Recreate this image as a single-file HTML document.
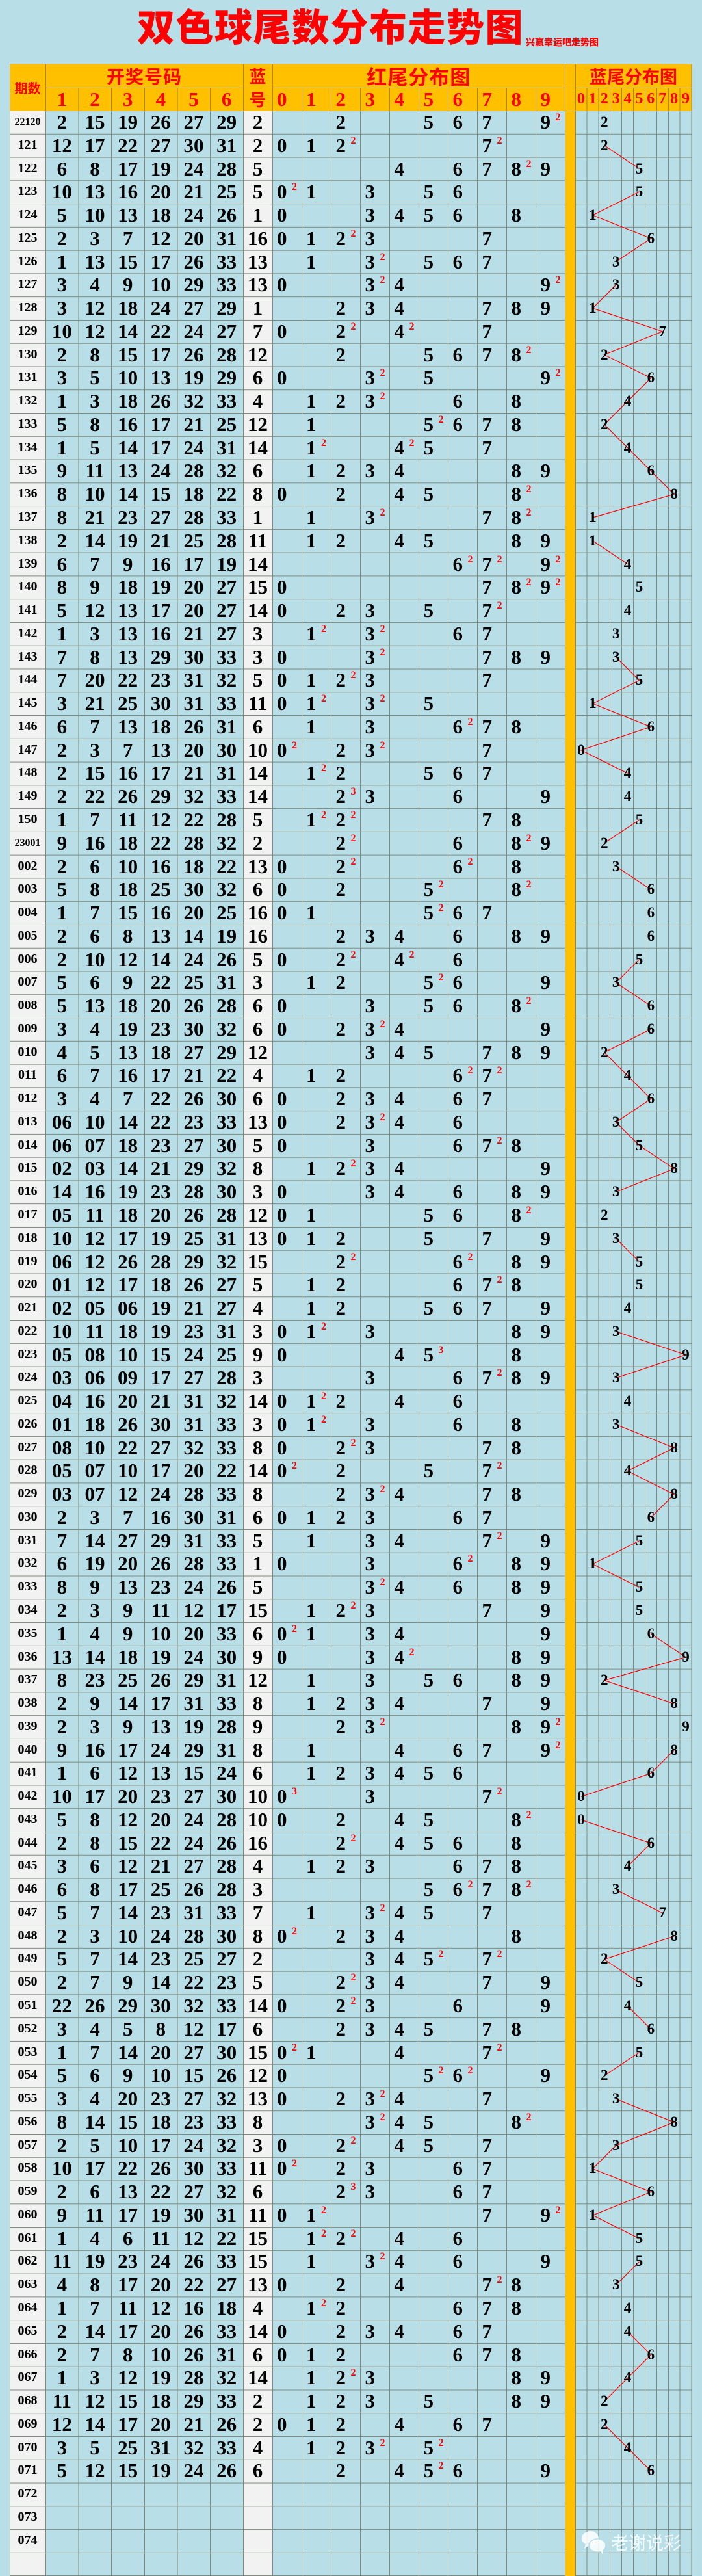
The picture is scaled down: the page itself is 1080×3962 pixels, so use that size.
<!DOCTYPE html>
<html><head><meta charset="utf-8">
<style>
*{margin:0;padding:0;box-sizing:border-box}
body{width:1080px;height:3962px;background:#b8dfe8;position:relative;overflow:hidden;font-family:"Liberation Serif",serif;color:#000}
.cjk{font-family:"Liberation Sans","Noto Sans CJK SC",sans-serif;font-weight:900}
.ab{position:absolute}
.hc{position:absolute;display:flex;align-items:center;justify-content:center;color:#f00;font-weight:bold}
.hd{font-family:"Liberation Serif",serif;font-size:31px;font-weight:bold}
#rows{position:absolute;left:0;top:170px;width:1080px}
.r{position:relative;height:35.77px;line-height:35.77px;padding-left:70px;font-weight:bold;font-size:31px;white-space:nowrap}
.r i{position:absolute;left:15px;width:55px;top:0;text-align:center;font-style:normal;font-size:20px}
.r i.w{font-size:16px}
.r b{display:inline-block;width:50.67px;text-align:center}
.r em{display:inline-block;width:45px;text-align:center;font-style:normal}
.r s{position:absolute;top:0;text-decoration:none}
.r sup{position:absolute;left:23px;top:3px;font-size:16px;line-height:16px;color:#f00;vertical-align:baseline}
.a0{left:426px}.a1{left:471px}.a2{left:516.5px}.a3{left:561.5px}.a4{left:606.5px}.a5{left:651.5px}.a6{left:696.5px}.a7{left:741.5px}.a8{left:786.5px}.a9{left:831.5px}
.r u{position:absolute;top:0;width:17.9px;text-align:center;text-decoration:none;font-size:23px}
.q0{left:885px}.q1{left:902.9px}.q2{left:920.8px}.q3{left:938.7px}.q4{left:956.6px}.q5{left:974.5px}.q6{left:992.4px}.q7{left:1010.3px}.q8{left:1028.2px}.q9{left:1046.1px}
</style></head><body>

<div class="ab cjk" style="left:211px;top:15px;font-size:58px;line-height:58px;letter-spacing:1.5px;color:#f00;white-space:nowrap">双色球尾数分布走势图</div>
<div class="ab cjk" style="left:809px;top:58px;font-size:14px;line-height:14px;color:#f00;white-space:nowrap">兴赢幸运吧走势图</div>

<svg class="ab" style="left:0;top:0" width="1080" height="3962" xmlns="http://www.w3.org/2000/svg">
<defs><pattern id="h" x="0" y="170" width="1080" height="35.77" patternUnits="userSpaceOnUse"><rect x="0" y="0" width="1080" height="1" fill="#7f8a7c"/></pattern></defs>
<rect x="15" y="98" width="1049" height="72" fill="#ffc000"/>
<rect x="15" y="170" width="55" height="3792" fill="#f2f2f2"/>
<rect x="374" y="170" width="45" height="3792" fill="#f2f2f2"/>
<rect x="15" y="170" width="1049" height="3792" fill="url(#h)"/>
<path stroke="#7f8a7c" stroke-width="1" fill="none" d="M15.5,170V3962M70.5,170V3962M121,170V3962M171.5,170V3962M222.5,170V3962M273,170V3962M323.5,170V3962M374.5,170V3962M419.5,170V3962M464.5,170V3962M509.5,170V3962M554.5,170V3962M599.5,170V3962M644.5,170V3962M689.5,170V3962M734.5,170V3962M779.5,170V3962M824.5,170V3962M869.5,170V3962M885.5,170V3962M903,170V3962M921,170V3962M938.5,170V3962M956.5,170V3962M974.5,170V3962M992.5,170V3962M1010.5,170V3962M1028.5,170V3962M1046,170V3962M1064,170V3962M15,3961.5H1064"/>
<rect x="870" y="98" width="15" height="3864" fill="#ffc000"/>
<path stroke="#a3852a" stroke-width="1" fill="none" d="M15,98.5H1064M70,135.5H374M419,135.5H869.5M885,135.5H1064M15,170.5H1064M15.5,98V170M70.5,98V170M374.5,98V170M419.5,98V170M869.5,98V170M885.5,98V170M1064,98V170M121,135V170M171.5,135V170M222.5,135V170M273,135V170M323.5,135V170M464.5,135V170M509.5,135V170M554.5,135V170M599.5,135V170M644.5,135V170M689.5,135V170M734.5,135V170M779.5,135V170M824.5,135V170M903,135V170M921,135V170M938.5,135V170M956.5,135V170M974.5,135V170M992.5,135V170M1010.5,135V170M1028.5,135V170M1046,135V170"/>
<g transform="translate(893.95,187.9) scale(17.9,35.77)">
<path fill="none" stroke="#f00" stroke-width="1.2" vector-effect="non-scaling-stroke" d="M2,1L5,2M5,3L1,4L6,5L3,6M3,7L1,8L7,9L2,10L6,11L4,12L2,13L4,14L6,15L8,16L1,17M1,18L4,19M3,23L5,24L1,25L6,26L0,27L4,28M5,30L2,31M3,32L6,33M5,36L3,37L6,38M6,39L2,40L4,41L6,42L3,43L5,44L8,45L3,46M3,48L5,49M3,52L9,53L3,54M3,56L8,57L4,58L8,59L6,60M5,61L1,62L5,63M6,65L9,66L2,67L8,68M8,70L6,71L0,72M0,73L6,74L4,75M3,76L7,77M8,78L2,79L5,80M4,81L6,82M5,83L2,84M3,85L8,86L3,87L1,88L6,89L1,90L5,91M5,92L3,93M4,95L6,96L4,97L2,98M2,99L4,100L6,101"/>
</g>
</svg>

<div class="hc cjk" style="left:15px;top:98px;width:55px;height:72px;font-size:20px">期数</div>
<div class="hc cjk" style="left:70px;top:98px;width:304px;height:37px;font-size:28px;letter-spacing:1px">开奖号码</div>
<div class="hc hd" style="left:70px;top:135px;width:50.67px;height:35px">1</div>
<div class="hc hd" style="left:120.67px;top:135px;width:50.67px;height:35px">2</div>
<div class="hc hd" style="left:171.33px;top:135px;width:50.67px;height:35px">3</div>
<div class="hc hd" style="left:222px;top:135px;width:50.67px;height:35px">4</div>
<div class="hc hd" style="left:272.67px;top:135px;width:50.67px;height:35px">5</div>
<div class="hc hd" style="left:323.33px;top:135px;width:50.67px;height:35px">6</div>
<div class="hc cjk" style="left:374px;top:98px;width:45px;height:37px;font-size:26px">蓝</div>
<div class="hc cjk" style="left:374px;top:135px;width:45px;height:35px;font-size:26px">号</div>
<div class="hc cjk" style="left:419px;top:98px;width:450.5px;height:37px;font-size:31px;letter-spacing:1px">红尾分布图</div>
<div class="hc cjk" style="left:885px;top:98px;width:179px;height:37px;font-size:27px">蓝尾分布图</div>
<div class="ab hd" style="left:0;top:135px;height:35px;line-height:35px;color:#f00;width:1080px">
<span class="ab" style="left:426px">0</span><span class="ab" style="left:471px">1</span><span class="ab" style="left:516.5px">2</span><span class="ab" style="left:561.5px">3</span><span class="ab" style="left:606.5px">4</span><span class="ab" style="left:651.5px">5</span><span class="ab" style="left:696.5px">6</span><span class="ab" style="left:741.5px">7</span><span class="ab" style="left:786.5px">8</span><span class="ab" style="left:831.5px">9</span>
</div>
<div class="ab" style="left:885px;top:135px;height:35px;line-height:35px;color:#f00;font-weight:bold;font-size:24px;width:179px;display:flex">
<span style="width:17.9px;text-align:center">0</span><span style="width:17.9px;text-align:center">1</span><span style="width:17.9px;text-align:center">2</span><span style="width:17.9px;text-align:center">3</span><span style="width:17.9px;text-align:center">4</span><span style="width:17.9px;text-align:center">5</span><span style="width:17.9px;text-align:center">6</span><span style="width:17.9px;text-align:center">7</span><span style="width:17.9px;text-align:center">8</span><span style="width:17.9px;text-align:center">9</span>
</div>

<div id="rows">
<div class="r"><i class="w">22120</i><b>2</b><b>15</b><b>19</b><b>26</b><b>27</b><b>29</b><em>2</em><s class="a2">2</s><s class="a5">5</s><s class="a6">6</s><s class="a7">7</s><s class="a9">9<sup>2</sup></s><u class="q2">2</u></div>
<div class="r"><i>121</i><b>12</b><b>17</b><b>22</b><b>27</b><b>30</b><b>31</b><em>2</em><s class="a0">0</s><s class="a1">1</s><s class="a2">2<sup>2</sup></s><s class="a7">7<sup>2</sup></s><u class="q2">2</u></div>
<div class="r"><i>122</i><b>6</b><b>8</b><b>17</b><b>19</b><b>24</b><b>28</b><em>5</em><s class="a4">4</s><s class="a6">6</s><s class="a7">7</s><s class="a8">8<sup>2</sup></s><s class="a9">9</s><u class="q5">5</u></div>
<div class="r"><i>123</i><b>10</b><b>13</b><b>16</b><b>20</b><b>21</b><b>25</b><em>5</em><s class="a0">0<sup>2</sup></s><s class="a1">1</s><s class="a3">3</s><s class="a5">5</s><s class="a6">6</s><u class="q5">5</u></div>
<div class="r"><i>124</i><b>5</b><b>10</b><b>13</b><b>18</b><b>24</b><b>26</b><em>1</em><s class="a0">0</s><s class="a3">3</s><s class="a4">4</s><s class="a5">5</s><s class="a6">6</s><s class="a8">8</s><u class="q1">1</u></div>
<div class="r"><i>125</i><b>2</b><b>3</b><b>7</b><b>12</b><b>20</b><b>31</b><em>16</em><s class="a0">0</s><s class="a1">1</s><s class="a2">2<sup>2</sup></s><s class="a3">3</s><s class="a7">7</s><u class="q6">6</u></div>
<div class="r"><i>126</i><b>1</b><b>13</b><b>15</b><b>17</b><b>26</b><b>33</b><em>13</em><s class="a1">1</s><s class="a3">3<sup>2</sup></s><s class="a5">5</s><s class="a6">6</s><s class="a7">7</s><u class="q3">3</u></div>
<div class="r"><i>127</i><b>3</b><b>4</b><b>9</b><b>10</b><b>29</b><b>33</b><em>13</em><s class="a0">0</s><s class="a3">3<sup>2</sup></s><s class="a4">4</s><s class="a9">9<sup>2</sup></s><u class="q3">3</u></div>
<div class="r"><i>128</i><b>3</b><b>12</b><b>18</b><b>24</b><b>27</b><b>29</b><em>1</em><s class="a2">2</s><s class="a3">3</s><s class="a4">4</s><s class="a7">7</s><s class="a8">8</s><s class="a9">9</s><u class="q1">1</u></div>
<div class="r"><i>129</i><b>10</b><b>12</b><b>14</b><b>22</b><b>24</b><b>27</b><em>7</em><s class="a0">0</s><s class="a2">2<sup>2</sup></s><s class="a4">4<sup>2</sup></s><s class="a7">7</s><u class="q7">7</u></div>
<div class="r"><i>130</i><b>2</b><b>8</b><b>15</b><b>17</b><b>26</b><b>28</b><em>12</em><s class="a2">2</s><s class="a5">5</s><s class="a6">6</s><s class="a7">7</s><s class="a8">8<sup>2</sup></s><u class="q2">2</u></div>
<div class="r"><i>131</i><b>3</b><b>5</b><b>10</b><b>13</b><b>19</b><b>29</b><em>6</em><s class="a0">0</s><s class="a3">3<sup>2</sup></s><s class="a5">5</s><s class="a9">9<sup>2</sup></s><u class="q6">6</u></div>
<div class="r"><i>132</i><b>1</b><b>3</b><b>18</b><b>26</b><b>32</b><b>33</b><em>4</em><s class="a1">1</s><s class="a2">2</s><s class="a3">3<sup>2</sup></s><s class="a6">6</s><s class="a8">8</s><u class="q4">4</u></div>
<div class="r"><i>133</i><b>5</b><b>8</b><b>16</b><b>17</b><b>21</b><b>25</b><em>12</em><s class="a1">1</s><s class="a5">5<sup>2</sup></s><s class="a6">6</s><s class="a7">7</s><s class="a8">8</s><u class="q2">2</u></div>
<div class="r"><i>134</i><b>1</b><b>5</b><b>14</b><b>17</b><b>24</b><b>31</b><em>14</em><s class="a1">1<sup>2</sup></s><s class="a4">4<sup>2</sup></s><s class="a5">5</s><s class="a7">7</s><u class="q4">4</u></div>
<div class="r"><i>135</i><b>9</b><b>11</b><b>13</b><b>24</b><b>28</b><b>32</b><em>6</em><s class="a1">1</s><s class="a2">2</s><s class="a3">3</s><s class="a4">4</s><s class="a8">8</s><s class="a9">9</s><u class="q6">6</u></div>
<div class="r"><i>136</i><b>8</b><b>10</b><b>14</b><b>15</b><b>18</b><b>22</b><em>8</em><s class="a0">0</s><s class="a2">2</s><s class="a4">4</s><s class="a5">5</s><s class="a8">8<sup>2</sup></s><u class="q8">8</u></div>
<div class="r"><i>137</i><b>8</b><b>21</b><b>23</b><b>27</b><b>28</b><b>33</b><em>1</em><s class="a1">1</s><s class="a3">3<sup>2</sup></s><s class="a7">7</s><s class="a8">8<sup>2</sup></s><u class="q1">1</u></div>
<div class="r"><i>138</i><b>2</b><b>14</b><b>19</b><b>21</b><b>25</b><b>28</b><em>11</em><s class="a1">1</s><s class="a2">2</s><s class="a4">4</s><s class="a5">5</s><s class="a8">8</s><s class="a9">9</s><u class="q1">1</u></div>
<div class="r"><i>139</i><b>6</b><b>7</b><b>9</b><b>16</b><b>17</b><b>19</b><em>14</em><s class="a6">6<sup>2</sup></s><s class="a7">7<sup>2</sup></s><s class="a9">9<sup>2</sup></s><u class="q4">4</u></div>
<div class="r"><i>140</i><b>8</b><b>9</b><b>18</b><b>19</b><b>20</b><b>27</b><em>15</em><s class="a0">0</s><s class="a7">7</s><s class="a8">8<sup>2</sup></s><s class="a9">9<sup>2</sup></s><u class="q5">5</u></div>
<div class="r"><i>141</i><b>5</b><b>12</b><b>13</b><b>17</b><b>20</b><b>27</b><em>14</em><s class="a0">0</s><s class="a2">2</s><s class="a3">3</s><s class="a5">5</s><s class="a7">7<sup>2</sup></s><u class="q4">4</u></div>
<div class="r"><i>142</i><b>1</b><b>3</b><b>13</b><b>16</b><b>21</b><b>27</b><em>3</em><s class="a1">1<sup>2</sup></s><s class="a3">3<sup>2</sup></s><s class="a6">6</s><s class="a7">7</s><u class="q3">3</u></div>
<div class="r"><i>143</i><b>7</b><b>8</b><b>13</b><b>29</b><b>30</b><b>33</b><em>3</em><s class="a0">0</s><s class="a3">3<sup>2</sup></s><s class="a7">7</s><s class="a8">8</s><s class="a9">9</s><u class="q3">3</u></div>
<div class="r"><i>144</i><b>7</b><b>20</b><b>22</b><b>23</b><b>31</b><b>32</b><em>5</em><s class="a0">0</s><s class="a1">1</s><s class="a2">2<sup>2</sup></s><s class="a3">3</s><s class="a7">7</s><u class="q5">5</u></div>
<div class="r"><i>145</i><b>3</b><b>21</b><b>25</b><b>30</b><b>31</b><b>33</b><em>11</em><s class="a0">0</s><s class="a1">1<sup>2</sup></s><s class="a3">3<sup>2</sup></s><s class="a5">5</s><u class="q1">1</u></div>
<div class="r"><i>146</i><b>6</b><b>7</b><b>13</b><b>18</b><b>26</b><b>31</b><em>6</em><s class="a1">1</s><s class="a3">3</s><s class="a6">6<sup>2</sup></s><s class="a7">7</s><s class="a8">8</s><u class="q6">6</u></div>
<div class="r"><i>147</i><b>2</b><b>3</b><b>7</b><b>13</b><b>20</b><b>30</b><em>10</em><s class="a0">0<sup>2</sup></s><s class="a2">2</s><s class="a3">3<sup>2</sup></s><s class="a7">7</s><u class="q0">0</u></div>
<div class="r"><i>148</i><b>2</b><b>15</b><b>16</b><b>17</b><b>21</b><b>31</b><em>14</em><s class="a1">1<sup>2</sup></s><s class="a2">2</s><s class="a5">5</s><s class="a6">6</s><s class="a7">7</s><u class="q4">4</u></div>
<div class="r"><i>149</i><b>2</b><b>22</b><b>26</b><b>29</b><b>32</b><b>33</b><em>14</em><s class="a2">2<sup>3</sup></s><s class="a3">3</s><s class="a6">6</s><s class="a9">9</s><u class="q4">4</u></div>
<div class="r"><i>150</i><b>1</b><b>7</b><b>11</b><b>12</b><b>22</b><b>28</b><em>5</em><s class="a1">1<sup>2</sup></s><s class="a2">2<sup>2</sup></s><s class="a7">7</s><s class="a8">8</s><u class="q5">5</u></div>
<div class="r"><i class="w">23001</i><b>9</b><b>16</b><b>18</b><b>22</b><b>28</b><b>32</b><em>2</em><s class="a2">2<sup>2</sup></s><s class="a6">6</s><s class="a8">8<sup>2</sup></s><s class="a9">9</s><u class="q2">2</u></div>
<div class="r"><i>002</i><b>2</b><b>6</b><b>10</b><b>16</b><b>18</b><b>22</b><em>13</em><s class="a0">0</s><s class="a2">2<sup>2</sup></s><s class="a6">6<sup>2</sup></s><s class="a8">8</s><u class="q3">3</u></div>
<div class="r"><i>003</i><b>5</b><b>8</b><b>18</b><b>25</b><b>30</b><b>32</b><em>6</em><s class="a0">0</s><s class="a2">2</s><s class="a5">5<sup>2</sup></s><s class="a8">8<sup>2</sup></s><u class="q6">6</u></div>
<div class="r"><i>004</i><b>1</b><b>7</b><b>15</b><b>16</b><b>20</b><b>25</b><em>16</em><s class="a0">0</s><s class="a1">1</s><s class="a5">5<sup>2</sup></s><s class="a6">6</s><s class="a7">7</s><u class="q6">6</u></div>
<div class="r"><i>005</i><b>2</b><b>6</b><b>8</b><b>13</b><b>14</b><b>19</b><em>16</em><s class="a2">2</s><s class="a3">3</s><s class="a4">4</s><s class="a6">6</s><s class="a8">8</s><s class="a9">9</s><u class="q6">6</u></div>
<div class="r"><i>006</i><b>2</b><b>10</b><b>12</b><b>14</b><b>24</b><b>26</b><em>5</em><s class="a0">0</s><s class="a2">2<sup>2</sup></s><s class="a4">4<sup>2</sup></s><s class="a6">6</s><u class="q5">5</u></div>
<div class="r"><i>007</i><b>5</b><b>6</b><b>9</b><b>22</b><b>25</b><b>31</b><em>3</em><s class="a1">1</s><s class="a2">2</s><s class="a5">5<sup>2</sup></s><s class="a6">6</s><s class="a9">9</s><u class="q3">3</u></div>
<div class="r"><i>008</i><b>5</b><b>13</b><b>18</b><b>20</b><b>26</b><b>28</b><em>6</em><s class="a0">0</s><s class="a3">3</s><s class="a5">5</s><s class="a6">6</s><s class="a8">8<sup>2</sup></s><u class="q6">6</u></div>
<div class="r"><i>009</i><b>3</b><b>4</b><b>19</b><b>23</b><b>30</b><b>32</b><em>6</em><s class="a0">0</s><s class="a2">2</s><s class="a3">3<sup>2</sup></s><s class="a4">4</s><s class="a9">9</s><u class="q6">6</u></div>
<div class="r"><i>010</i><b>4</b><b>5</b><b>13</b><b>18</b><b>27</b><b>29</b><em>12</em><s class="a3">3</s><s class="a4">4</s><s class="a5">5</s><s class="a7">7</s><s class="a8">8</s><s class="a9">9</s><u class="q2">2</u></div>
<div class="r"><i>011</i><b>6</b><b>7</b><b>16</b><b>17</b><b>21</b><b>22</b><em>4</em><s class="a1">1</s><s class="a2">2</s><s class="a6">6<sup>2</sup></s><s class="a7">7<sup>2</sup></s><u class="q4">4</u></div>
<div class="r"><i>012</i><b>3</b><b>4</b><b>7</b><b>22</b><b>26</b><b>30</b><em>6</em><s class="a0">0</s><s class="a2">2</s><s class="a3">3</s><s class="a4">4</s><s class="a6">6</s><s class="a7">7</s><u class="q6">6</u></div>
<div class="r"><i>013</i><b>06</b><b>10</b><b>14</b><b>22</b><b>23</b><b>33</b><em>13</em><s class="a0">0</s><s class="a2">2</s><s class="a3">3<sup>2</sup></s><s class="a4">4</s><s class="a6">6</s><u class="q3">3</u></div>
<div class="r"><i>014</i><b>06</b><b>07</b><b>18</b><b>23</b><b>27</b><b>30</b><em>5</em><s class="a0">0</s><s class="a3">3</s><s class="a6">6</s><s class="a7">7<sup>2</sup></s><s class="a8">8</s><u class="q5">5</u></div>
<div class="r"><i>015</i><b>02</b><b>03</b><b>14</b><b>21</b><b>29</b><b>32</b><em>8</em><s class="a1">1</s><s class="a2">2<sup>2</sup></s><s class="a3">3</s><s class="a4">4</s><s class="a9">9</s><u class="q8">8</u></div>
<div class="r"><i>016</i><b>14</b><b>16</b><b>19</b><b>23</b><b>28</b><b>30</b><em>3</em><s class="a0">0</s><s class="a3">3</s><s class="a4">4</s><s class="a6">6</s><s class="a8">8</s><s class="a9">9</s><u class="q3">3</u></div>
<div class="r"><i>017</i><b>05</b><b>11</b><b>18</b><b>20</b><b>26</b><b>28</b><em>12</em><s class="a0">0</s><s class="a1">1</s><s class="a5">5</s><s class="a6">6</s><s class="a8">8<sup>2</sup></s><u class="q2">2</u></div>
<div class="r"><i>018</i><b>10</b><b>12</b><b>17</b><b>19</b><b>25</b><b>31</b><em>13</em><s class="a0">0</s><s class="a1">1</s><s class="a2">2</s><s class="a5">5</s><s class="a7">7</s><s class="a9">9</s><u class="q3">3</u></div>
<div class="r"><i>019</i><b>06</b><b>12</b><b>26</b><b>28</b><b>29</b><b>32</b><em>15</em><s class="a2">2<sup>2</sup></s><s class="a6">6<sup>2</sup></s><s class="a8">8</s><s class="a9">9</s><u class="q5">5</u></div>
<div class="r"><i>020</i><b>01</b><b>12</b><b>17</b><b>18</b><b>26</b><b>27</b><em>5</em><s class="a1">1</s><s class="a2">2</s><s class="a6">6</s><s class="a7">7<sup>2</sup></s><s class="a8">8</s><u class="q5">5</u></div>
<div class="r"><i>021</i><b>02</b><b>05</b><b>06</b><b>19</b><b>21</b><b>27</b><em>4</em><s class="a1">1</s><s class="a2">2</s><s class="a5">5</s><s class="a6">6</s><s class="a7">7</s><s class="a9">9</s><u class="q4">4</u></div>
<div class="r"><i>022</i><b>10</b><b>11</b><b>18</b><b>19</b><b>23</b><b>31</b><em>3</em><s class="a0">0</s><s class="a1">1<sup>2</sup></s><s class="a3">3</s><s class="a8">8</s><s class="a9">9</s><u class="q3">3</u></div>
<div class="r"><i>023</i><b>05</b><b>08</b><b>10</b><b>15</b><b>24</b><b>25</b><em>9</em><s class="a0">0</s><s class="a4">4</s><s class="a5">5<sup>3</sup></s><s class="a8">8</s><u class="q9">9</u></div>
<div class="r"><i>024</i><b>03</b><b>06</b><b>09</b><b>17</b><b>27</b><b>28</b><em>3</em><s class="a3">3</s><s class="a6">6</s><s class="a7">7<sup>2</sup></s><s class="a8">8</s><s class="a9">9</s><u class="q3">3</u></div>
<div class="r"><i>025</i><b>04</b><b>16</b><b>20</b><b>21</b><b>31</b><b>32</b><em>14</em><s class="a0">0</s><s class="a1">1<sup>2</sup></s><s class="a2">2</s><s class="a4">4</s><s class="a6">6</s><u class="q4">4</u></div>
<div class="r"><i>026</i><b>01</b><b>18</b><b>26</b><b>30</b><b>31</b><b>33</b><em>3</em><s class="a0">0</s><s class="a1">1<sup>2</sup></s><s class="a3">3</s><s class="a6">6</s><s class="a8">8</s><u class="q3">3</u></div>
<div class="r"><i>027</i><b>08</b><b>10</b><b>22</b><b>27</b><b>32</b><b>33</b><em>8</em><s class="a0">0</s><s class="a2">2<sup>2</sup></s><s class="a3">3</s><s class="a7">7</s><s class="a8">8</s><u class="q8">8</u></div>
<div class="r"><i>028</i><b>05</b><b>07</b><b>10</b><b>17</b><b>20</b><b>22</b><em>14</em><s class="a0">0<sup>2</sup></s><s class="a2">2</s><s class="a5">5</s><s class="a7">7<sup>2</sup></s><u class="q4">4</u></div>
<div class="r"><i>029</i><b>03</b><b>07</b><b>12</b><b>24</b><b>28</b><b>33</b><em>8</em><s class="a2">2</s><s class="a3">3<sup>2</sup></s><s class="a4">4</s><s class="a7">7</s><s class="a8">8</s><u class="q8">8</u></div>
<div class="r"><i>030</i><b>2</b><b>3</b><b>7</b><b>16</b><b>30</b><b>31</b><em>6</em><s class="a0">0</s><s class="a1">1</s><s class="a2">2</s><s class="a3">3</s><s class="a6">6</s><s class="a7">7</s><u class="q6">6</u></div>
<div class="r"><i>031</i><b>7</b><b>14</b><b>27</b><b>29</b><b>31</b><b>33</b><em>5</em><s class="a1">1</s><s class="a3">3</s><s class="a4">4</s><s class="a7">7<sup>2</sup></s><s class="a9">9</s><u class="q5">5</u></div>
<div class="r"><i>032</i><b>6</b><b>19</b><b>20</b><b>26</b><b>28</b><b>33</b><em>1</em><s class="a0">0</s><s class="a3">3</s><s class="a6">6<sup>2</sup></s><s class="a8">8</s><s class="a9">9</s><u class="q1">1</u></div>
<div class="r"><i>033</i><b>8</b><b>9</b><b>13</b><b>23</b><b>24</b><b>26</b><em>5</em><s class="a3">3<sup>2</sup></s><s class="a4">4</s><s class="a6">6</s><s class="a8">8</s><s class="a9">9</s><u class="q5">5</u></div>
<div class="r"><i>034</i><b>2</b><b>3</b><b>9</b><b>11</b><b>12</b><b>17</b><em>15</em><s class="a1">1</s><s class="a2">2<sup>2</sup></s><s class="a3">3</s><s class="a7">7</s><s class="a9">9</s><u class="q5">5</u></div>
<div class="r"><i>035</i><b>1</b><b>4</b><b>9</b><b>10</b><b>20</b><b>33</b><em>6</em><s class="a0">0<sup>2</sup></s><s class="a1">1</s><s class="a3">3</s><s class="a4">4</s><s class="a9">9</s><u class="q6">6</u></div>
<div class="r"><i>036</i><b>13</b><b>14</b><b>18</b><b>19</b><b>24</b><b>30</b><em>9</em><s class="a0">0</s><s class="a3">3</s><s class="a4">4<sup>2</sup></s><s class="a8">8</s><s class="a9">9</s><u class="q9">9</u></div>
<div class="r"><i>037</i><b>8</b><b>23</b><b>25</b><b>26</b><b>29</b><b>31</b><em>12</em><s class="a1">1</s><s class="a3">3</s><s class="a5">5</s><s class="a6">6</s><s class="a8">8</s><s class="a9">9</s><u class="q2">2</u></div>
<div class="r"><i>038</i><b>2</b><b>9</b><b>14</b><b>17</b><b>31</b><b>33</b><em>8</em><s class="a1">1</s><s class="a2">2</s><s class="a3">3</s><s class="a4">4</s><s class="a7">7</s><s class="a9">9</s><u class="q8">8</u></div>
<div class="r"><i>039</i><b>2</b><b>3</b><b>9</b><b>13</b><b>19</b><b>28</b><em>9</em><s class="a2">2</s><s class="a3">3<sup>2</sup></s><s class="a8">8</s><s class="a9">9<sup>2</sup></s><u class="q9">9</u></div>
<div class="r"><i>040</i><b>9</b><b>16</b><b>17</b><b>24</b><b>29</b><b>31</b><em>8</em><s class="a1">1</s><s class="a4">4</s><s class="a6">6</s><s class="a7">7</s><s class="a9">9<sup>2</sup></s><u class="q8">8</u></div>
<div class="r"><i>041</i><b>1</b><b>6</b><b>12</b><b>13</b><b>15</b><b>24</b><em>6</em><s class="a1">1</s><s class="a2">2</s><s class="a3">3</s><s class="a4">4</s><s class="a5">5</s><s class="a6">6</s><u class="q6">6</u></div>
<div class="r"><i>042</i><b>10</b><b>17</b><b>20</b><b>23</b><b>27</b><b>30</b><em>10</em><s class="a0">0<sup>3</sup></s><s class="a3">3</s><s class="a7">7<sup>2</sup></s><u class="q0">0</u></div>
<div class="r"><i>043</i><b>5</b><b>8</b><b>12</b><b>20</b><b>24</b><b>28</b><em>10</em><s class="a0">0</s><s class="a2">2</s><s class="a4">4</s><s class="a5">5</s><s class="a8">8<sup>2</sup></s><u class="q0">0</u></div>
<div class="r"><i>044</i><b>2</b><b>8</b><b>15</b><b>22</b><b>24</b><b>26</b><em>16</em><s class="a2">2<sup>2</sup></s><s class="a4">4</s><s class="a5">5</s><s class="a6">6</s><s class="a8">8</s><u class="q6">6</u></div>
<div class="r"><i>045</i><b>3</b><b>6</b><b>12</b><b>21</b><b>27</b><b>28</b><em>4</em><s class="a1">1</s><s class="a2">2</s><s class="a3">3</s><s class="a6">6</s><s class="a7">7</s><s class="a8">8</s><u class="q4">4</u></div>
<div class="r"><i>046</i><b>6</b><b>8</b><b>17</b><b>25</b><b>26</b><b>28</b><em>3</em><s class="a5">5</s><s class="a6">6<sup>2</sup></s><s class="a7">7</s><s class="a8">8<sup>2</sup></s><u class="q3">3</u></div>
<div class="r"><i>047</i><b>5</b><b>7</b><b>14</b><b>23</b><b>31</b><b>33</b><em>7</em><s class="a1">1</s><s class="a3">3<sup>2</sup></s><s class="a4">4</s><s class="a5">5</s><s class="a7">7</s><u class="q7">7</u></div>
<div class="r"><i>048</i><b>2</b><b>3</b><b>10</b><b>24</b><b>28</b><b>30</b><em>8</em><s class="a0">0<sup>2</sup></s><s class="a2">2</s><s class="a3">3</s><s class="a4">4</s><s class="a8">8</s><u class="q8">8</u></div>
<div class="r"><i>049</i><b>5</b><b>7</b><b>14</b><b>23</b><b>25</b><b>27</b><em>2</em><s class="a3">3</s><s class="a4">4</s><s class="a5">5<sup>2</sup></s><s class="a7">7<sup>2</sup></s><u class="q2">2</u></div>
<div class="r"><i>050</i><b>2</b><b>7</b><b>9</b><b>14</b><b>22</b><b>23</b><em>5</em><s class="a2">2<sup>2</sup></s><s class="a3">3</s><s class="a4">4</s><s class="a7">7</s><s class="a9">9</s><u class="q5">5</u></div>
<div class="r"><i>051</i><b>22</b><b>26</b><b>29</b><b>30</b><b>32</b><b>33</b><em>14</em><s class="a0">0</s><s class="a2">2<sup>2</sup></s><s class="a3">3</s><s class="a6">6</s><s class="a9">9</s><u class="q4">4</u></div>
<div class="r"><i>052</i><b>3</b><b>4</b><b>5</b><b>8</b><b>12</b><b>17</b><em>6</em><s class="a2">2</s><s class="a3">3</s><s class="a4">4</s><s class="a5">5</s><s class="a7">7</s><s class="a8">8</s><u class="q6">6</u></div>
<div class="r"><i>053</i><b>1</b><b>7</b><b>14</b><b>20</b><b>27</b><b>30</b><em>15</em><s class="a0">0<sup>2</sup></s><s class="a1">1</s><s class="a4">4</s><s class="a7">7<sup>2</sup></s><u class="q5">5</u></div>
<div class="r"><i>054</i><b>5</b><b>6</b><b>9</b><b>10</b><b>15</b><b>26</b><em>12</em><s class="a0">0</s><s class="a5">5<sup>2</sup></s><s class="a6">6<sup>2</sup></s><s class="a9">9</s><u class="q2">2</u></div>
<div class="r"><i>055</i><b>3</b><b>4</b><b>20</b><b>23</b><b>27</b><b>32</b><em>13</em><s class="a0">0</s><s class="a2">2</s><s class="a3">3<sup>2</sup></s><s class="a4">4</s><s class="a7">7</s><u class="q3">3</u></div>
<div class="r"><i>056</i><b>8</b><b>14</b><b>15</b><b>18</b><b>23</b><b>33</b><em>8</em><s class="a3">3<sup>2</sup></s><s class="a4">4</s><s class="a5">5</s><s class="a8">8<sup>2</sup></s><u class="q8">8</u></div>
<div class="r"><i>057</i><b>2</b><b>5</b><b>10</b><b>17</b><b>24</b><b>32</b><em>3</em><s class="a0">0</s><s class="a2">2<sup>2</sup></s><s class="a4">4</s><s class="a5">5</s><s class="a7">7</s><u class="q3">3</u></div>
<div class="r"><i>058</i><b>10</b><b>17</b><b>22</b><b>26</b><b>30</b><b>33</b><em>11</em><s class="a0">0<sup>2</sup></s><s class="a2">2</s><s class="a3">3</s><s class="a6">6</s><s class="a7">7</s><u class="q1">1</u></div>
<div class="r"><i>059</i><b>2</b><b>6</b><b>13</b><b>22</b><b>27</b><b>32</b><em>6</em><s class="a2">2<sup>3</sup></s><s class="a3">3</s><s class="a6">6</s><s class="a7">7</s><u class="q6">6</u></div>
<div class="r"><i>060</i><b>9</b><b>11</b><b>17</b><b>19</b><b>30</b><b>31</b><em>11</em><s class="a0">0</s><s class="a1">1<sup>2</sup></s><s class="a7">7</s><s class="a9">9<sup>2</sup></s><u class="q1">1</u></div>
<div class="r"><i>061</i><b>1</b><b>4</b><b>6</b><b>11</b><b>12</b><b>22</b><em>15</em><s class="a1">1<sup>2</sup></s><s class="a2">2<sup>2</sup></s><s class="a4">4</s><s class="a6">6</s><u class="q5">5</u></div>
<div class="r"><i>062</i><b>11</b><b>19</b><b>23</b><b>24</b><b>26</b><b>33</b><em>15</em><s class="a1">1</s><s class="a3">3<sup>2</sup></s><s class="a4">4</s><s class="a6">6</s><s class="a9">9</s><u class="q5">5</u></div>
<div class="r"><i>063</i><b>4</b><b>8</b><b>17</b><b>20</b><b>22</b><b>27</b><em>13</em><s class="a0">0</s><s class="a2">2</s><s class="a4">4</s><s class="a7">7<sup>2</sup></s><s class="a8">8</s><u class="q3">3</u></div>
<div class="r"><i>064</i><b>1</b><b>7</b><b>11</b><b>12</b><b>16</b><b>18</b><em>4</em><s class="a1">1<sup>2</sup></s><s class="a2">2</s><s class="a6">6</s><s class="a7">7</s><s class="a8">8</s><u class="q4">4</u></div>
<div class="r"><i>065</i><b>2</b><b>14</b><b>17</b><b>20</b><b>26</b><b>33</b><em>14</em><s class="a0">0</s><s class="a2">2</s><s class="a3">3</s><s class="a4">4</s><s class="a6">6</s><s class="a7">7</s><u class="q4">4</u></div>
<div class="r"><i>066</i><b>2</b><b>7</b><b>8</b><b>10</b><b>26</b><b>31</b><em>6</em><s class="a0">0</s><s class="a1">1</s><s class="a2">2</s><s class="a6">6</s><s class="a7">7</s><s class="a8">8</s><u class="q6">6</u></div>
<div class="r"><i>067</i><b>1</b><b>3</b><b>12</b><b>19</b><b>28</b><b>32</b><em>14</em><s class="a1">1</s><s class="a2">2<sup>2</sup></s><s class="a3">3</s><s class="a8">8</s><s class="a9">9</s><u class="q4">4</u></div>
<div class="r"><i>068</i><b>11</b><b>12</b><b>15</b><b>18</b><b>29</b><b>33</b><em>2</em><s class="a1">1</s><s class="a2">2</s><s class="a3">3</s><s class="a5">5</s><s class="a8">8</s><s class="a9">9</s><u class="q2">2</u></div>
<div class="r"><i>069</i><b>12</b><b>14</b><b>17</b><b>20</b><b>21</b><b>26</b><em>2</em><s class="a0">0</s><s class="a1">1</s><s class="a2">2</s><s class="a4">4</s><s class="a6">6</s><s class="a7">7</s><u class="q2">2</u></div>
<div class="r"><i>070</i><b>3</b><b>5</b><b>25</b><b>31</b><b>32</b><b>33</b><em>4</em><s class="a1">1</s><s class="a2">2</s><s class="a3">3<sup>2</sup></s><s class="a5">5<sup>2</sup></s><u class="q4">4</u></div>
<div class="r"><i>071</i><b>5</b><b>12</b><b>15</b><b>19</b><b>24</b><b>26</b><em>6</em><s class="a2">2</s><s class="a4">4</s><s class="a5">5<sup>2</sup></s><s class="a6">6</s><s class="a9">9</s><u class="q6">6</u></div>
<div class="r"><i>072</i></div>
<div class="r"><i>073</i></div>
<div class="r"><i>074</i></div>
</div>

<svg class="ab" style="left:893px;top:3888px" width="42" height="42" xmlns="http://www.w3.org/2000/svg">
<ellipse cx="15" cy="16" rx="13" ry="11" fill="#fff" fill-opacity="0.85"/>
<ellipse cx="26" cy="27" rx="13" ry="10" fill="#fff" fill-opacity="0.85" stroke="#b8dfe8" stroke-width="1.5"/>
<path d="M8,25 L6,32 L13,27Z M30,35 L34,40 L34,34Z" fill="#fff" fill-opacity="0.85"/>
</svg>
<div class="ab cjk" style="left:940px;top:3897px;font-size:27px;line-height:30px;color:#fff;opacity:.85;font-weight:400;white-space:nowrap">老谢说彩</div>

</body></html>
